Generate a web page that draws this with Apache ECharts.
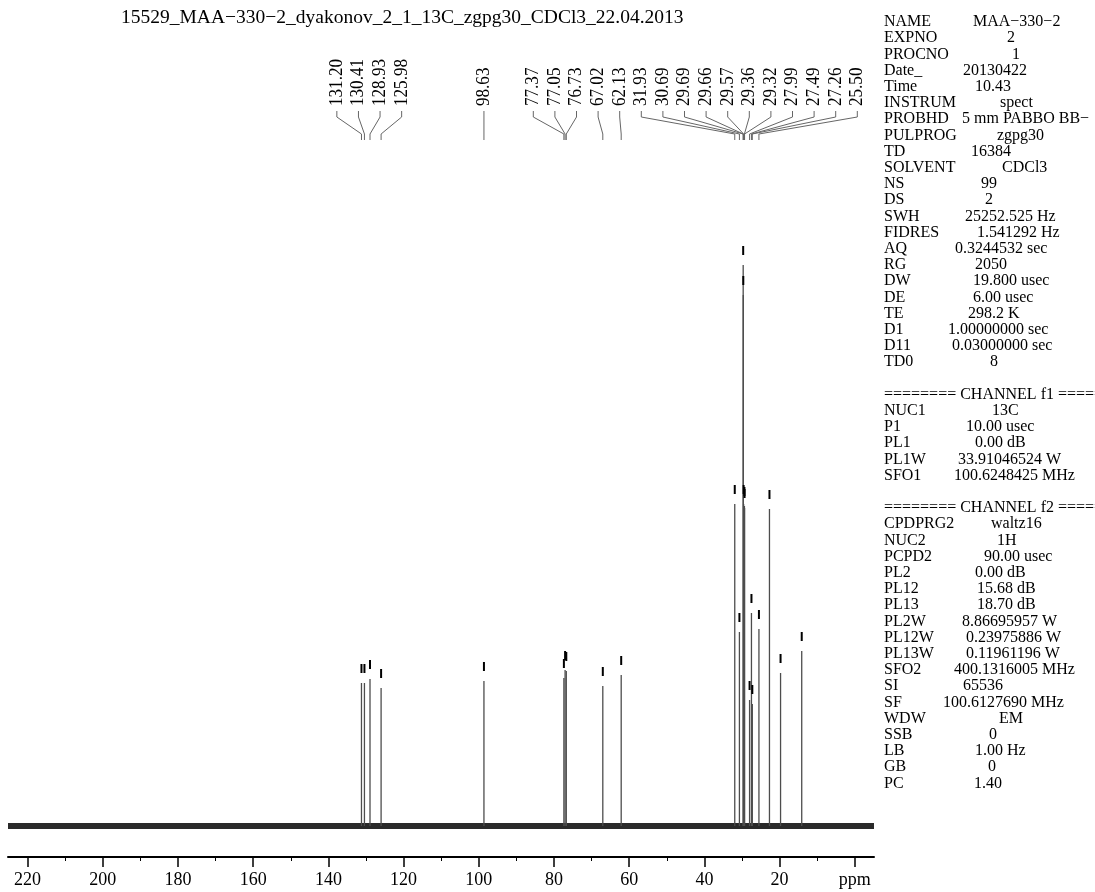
<!DOCTYPE html>
<html><head><meta charset="utf-8">
<script src="https://cdn.jsdelivr.net/npm/echarts@6/dist/echarts.min.js"></script>
<style>html,body{margin:0;padding:0;background:#fff}#c{width:1095px;height:892px}</style>
</head><body><div id="c"></div>
<script>
// ---- data ----
const TITLE = '15529_MAA\u2212330\u22122_dyakonov_2_1_13C_zgpg30_CDCl3_22.04.2013';
const PEAK_PPM    = [131.20,130.41,128.93,125.98,98.63,77.37,77.05,76.73,67.02,62.13,31.93,30.69,29.69,29.66,29.57,29.36,29.32,27.99,27.49,27.26,25.50,22.70,19.75,14.12];
const PEAK_HEIGHT = [143,143,147,138,145,148,156,155,140,151,322,194,561,531,322,320,318,126,213,122,197,317,153,175];
const PEAK_LABELS = ['131.20','130.41','128.93','125.98','98.63','77.37','77.05','76.73','67.02','62.13','31.93','30.69','29.69','29.66','29.57','29.36','29.32','27.99','27.49','27.26','25.50','','',''];
const X_TICKS = [220,200,180,160,140,120,100,80,60,40,20,0];
const X_TICK_LABELS = ['220','200','180','160','140','120','100','80','60','40','20','ppm'];
const X_MINOR_TICKS = [210,190,170,150,130,110,90,70,50,30,10];
const X_RANGE = [-5.1, 225.2];
const Y_RANGE = [-31, 590];
const PARAM_KEYS = ['NAME','EXPNO','PROCNO','Date_','Time','INSTRUM','PROBHD','PULPROG','TD','SOLVENT','NS','DS','SWH','FIDRES','AQ','RG','DW','DE','TE','D1','D11','TD0','',
  '======== CHANNEL f1 ========','NUC1','P1','PL1','PL1W','SFO1','',
  '======== CHANNEL f2 ========','CPDPRG2','NUC2','PCPD2','PL2','PL12','PL13','PL2W','PL12W','PL13W','SFO2','SI','SF','WDW','SSB','LB','GB','PC'];
const PARAM_VALUES = ['MAA\u2212330\u22122','2','1','20130422','10.43','spect','5 mm PABBO BB\u2212','zgpg30','16384','CDCl3','99','2','25252.525 Hz','1.541292 Hz','0.3244532 sec','2050','19.800 usec','6.00 usec','298.2 K','1.00000000 sec','0.03000000 sec','8','',
  '','13C','10.00 usec','0.00 dB','33.91046524 W','100.6248425 MHz','',
  '','waltz16','1H','90.00 usec','0.00 dB','15.68 dB','18.70 dB','8.86695957 W','0.23975886 W','0.11961196 W','400.1316005 MHz','65536','100.6127690 MHz','EM','0','1.00 Hz','0','1.40'];

// ---- layout (not data) ----
const PARAM_VALUE_X = [973,1007,1012,963,975,1000,962,997,971,1002,981,985,965,977,955,975,973,973,968,948,952,990,0,
  0,992,966,975,958,954,0,
  0,991,997,984,975,977,977,962,966,966,954,963,943,999,989,975,988,974];
const SERIF = '"Liberation Serif","Times New Roman",serif';

const chart = echarts.init(document.getElementById('c'), null, {renderer:'canvas'});

let layoutCache = null;
function computeLayout(api){
  const items = [];
  PEAK_PPM.forEach((p,i)=>{ if (PEAK_LABELS[i]) items.push({i, px: api.coord([p,0])[0]}); });
  items.sort((a,b)=>a.px-b.px);
  const D = 21.6;
  const clusters = [];
  items.forEach(it=>{
    let c = {members:[it], first: it.px};
    while (clusters.length){
      const prev = clusters[clusters.length-1];
      if (prev.first + prev.members.length*D > c.first){
        const merged = prev.members.concat(c.members);
        let s = 0; merged.forEach((m,k)=>{ s += m.px - k*D; });
        c = {members: merged, first: s/merged.length};
        clusters.pop();
      } else break;
    }
    clusters.push(c);
  });
  const pos = {};
  clusters.forEach(c=>c.members.forEach((m,k)=>{ pos[m.i] = c.first + k*D; }));
  return pos;
}

const graphics = [{type:'text', x:121, y:18, style:{text:TITLE, font:'19.5px '+SERIF, fill:'#000', verticalAlign:'middle'}}];
PARAM_KEYS.forEach((k,i)=>{
  const y = 22 + i*16.2;
  if (k) graphics.push({type:'text', x:884, y, style:{text:k, font:'16px '+SERIF, fill:'#000', verticalAlign:'middle'}});
  if (PARAM_VALUES[i]) graphics.push({type:'text', x:PARAM_VALUE_X[i], y, style:{text:PARAM_VALUES[i], font:'16px '+SERIF, fill:'#000', verticalAlign:'middle'}});
});

chart.setOption({
  animation:false,
  backgroundColor:'#fff',
  grid:{left:8, right:221, top:236, bottom:35, containLabel:false},
  xAxis:[{
    type:'value', min:X_RANGE[0], max:X_RANGE[1], inverse:true, position:'bottom',
    axisLine:{show:true, onZero:false, lineStyle:{color:'#000', width:2}},
    axisTick:{show:true, customValues:X_TICKS, length:10, lineStyle:{color:'#000', width:1.5}},
    axisLabel:{show:true, customValues:X_TICKS, margin:14, color:'#000', fontSize:18, fontFamily:SERIF,
      formatter:v=>{ const k = X_TICKS.indexOf(v); return k>=0 ? X_TICK_LABELS[k] : ''; }},
    splitLine:{show:false}
  },{
    type:'value', min:X_RANGE[0], max:X_RANGE[1], inverse:true, position:'bottom',
    axisLine:{show:false, onZero:false},
    axisTick:{show:true, customValues:X_MINOR_TICKS, length:4, lineStyle:{color:'#000', width:1}},
    axisLabel:{show:false}, splitLine:{show:false}
  }],
  yAxis:{type:'value', min:Y_RANGE[0], max:Y_RANGE[1], show:false, splitLine:{show:false}},
  graphic:{elements:graphics},
  series:[{
    type:'line', xAxisIndex:0, data:[[X_RANGE[0],0],[X_RANGE[1],0]], symbol:'none',
    lineStyle:{color:'#2a2a2a', width:6}, silent:true, z:1
  },{
    type:'custom', xAxisIndex:0, clip:false, silent:true, z:2,
    data: PEAK_PPM.map((p,i)=>[p, PEAK_HEIGHT[i]]),
    renderItem:(params, api)=>{
      if (params.dataIndexInside===0 || !layoutCache) layoutCache = computeLayout(api);
      const i = params.dataIndex;
      const base = api.coord([api.value(0), 0]);
      const top = api.coord([api.value(0), api.value(1)]);
      const children = [
        {type:'line', shape:{x1:base[0], y1:base[1], x2:top[0], y2:top[1]}, style:{stroke:'#4d4d4d', lineWidth:1.3}, z2:1},
        {type:'rect', shape:{x:top[0]-1, y:top[1]-19, width:2, height:9}, style:{fill:'#000'}, z2:10}
      ];
      const lab = PEAK_LABELS[i];
      if (lab){
        const lx = layoutCache[i];
        children.push({type:'polyline', shape:{points:[[lx,111],[lx,117],[base[0],134],[base[0],140]]}, style:{stroke:'#666', lineWidth:1, fill:'none'}});
        children.push({type:'text', x:lx, y:106, rotation:Math.PI/2, scaleX:0.9,
          style:{text:lab, font:'19px '+SERIF, fill:'#000', align:'left', verticalAlign:'middle'}});
      }
      return {type:'group', children};
    }
  }]
});
</script></body></html>
